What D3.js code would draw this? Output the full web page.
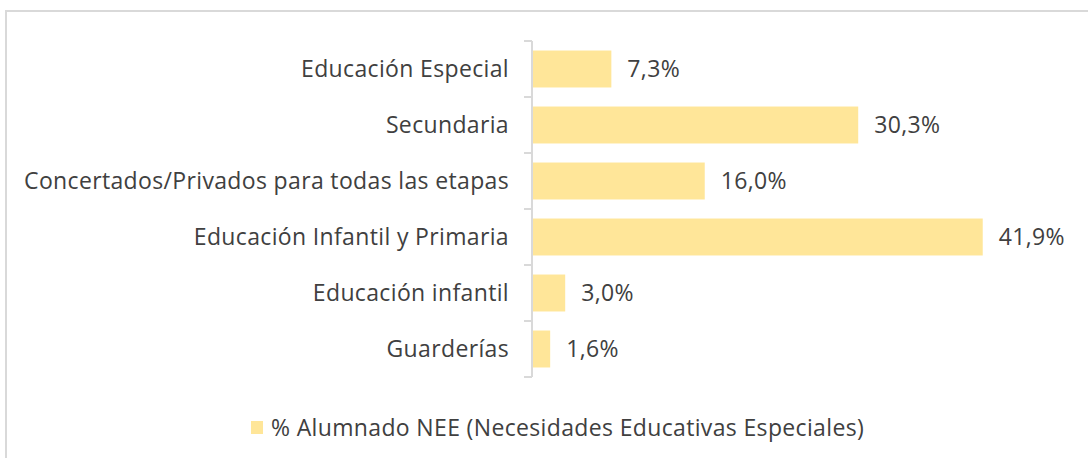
<!DOCTYPE html>
<html>
<head>
<meta charset="utf-8">
<script src="https://cdn.jsdelivr.net/npm/d3@7"></script>
<style>
  body { margin: 0; background: #fff; }
  svg text { font-family: "Open Sans", "Noto Sans", sans-serif; letter-spacing: 0.35px; }
</style>
</head>
<body>
<svg id="chart"></svg>
<script>
// Chart size
const width = 1088;
const height = 458;

// Data
const categories = [
  "Educación Especial",
  "Secundaria",
  "Concertados/Privados para todas las etapas",
  "Educación Infantil y Primaria",
  "Educación infantil",
  "Guarderías"
];
const values = [7.3, 30.3, 16.0, 41.9, 3.0, 1.6];
const seriesName = "% Alumnado NEE (Necesidades Educativas Especiales)";

// Visual constants
const BAR_COLOR = '#FFE699';
const TEXT_COLOR = '#404040';
const AXIS_COLOR = '#d9d9d9';
const FONT_SIZE = 23;

const data = categories.map((c, i) => ({ category: c, value: values[i] }));

const svg = d3.select('#chart')
    .attr('width', width)
    .attr('height', height)
    .attr('viewBox', [0, 0, width, height]);

// Outer frame (only top and left edges visible in the crop)
svg.append('path')
    .attr('d', `M6,${height} V11 H${width}`)
    .attr('fill', 'none')
    .attr('stroke', AXIS_COLOR)
    .attr('stroke-width', 2);

const x = d3.scaleLinear()
    .domain([0, 45])
    .range([533, 1016]);

const y = d3.scaleBand()
    .domain(categories)
    .range([41, 377])
    .paddingInner(0.34)
    .paddingOuter(0.17);

// Category axis: vertical line with ticks at band boundaries
const axisG = svg.append('g');
const bounds = d3.range(categories.length + 1)
    .map(i => y.range()[0] + i * (y.range()[1] - y.range()[0]) / categories.length);
axisG.append('line')
    .attr('x1', 532).attr('x2', 532)
    .attr('y1', 41).attr('y2', 377)
    .attr('stroke', AXIS_COLOR)
    .attr('stroke-width', 2);
axisG.selectAll('line.tick')
    .data(bounds)
    .join('line')
    .attr('class', 'tick')
    .attr('x1', 524).attr('x2', 532)
    .attr('y1', d => d).attr('y2', d => d)
    .attr('stroke', AXIS_COLOR)
    .attr('stroke-width', 2);

// Category labels
svg.append('g')
    .selectAll('text')
    .data(data)
    .join('text')
    .attr('x', 509)
    .attr('y', d => y(d.category) + y.bandwidth() / 2)
    .attr('dy', '0.35em')
    .attr('text-anchor', 'end')
    .attr('fill', TEXT_COLOR)
    .attr('font-size', FONT_SIZE)
    .text(d => d.category);

// Bars
svg.append('g')
    .selectAll('rect')
    .data(data)
    .join('rect')
    .attr('x', x(0))
    .attr('y', d => y(d.category))
    .attr('width', d => x(d.value) - x(0))
    .attr('height', y.bandwidth())
    .attr('fill', BAR_COLOR);

// Value labels
svg.append('g')
    .selectAll('text')
    .data(data)
    .join('text')
    .attr('x', d => x(d.value) + 16)
    .attr('y', d => y(d.category) + y.bandwidth() / 2)
    .attr('dy', '0.35em')
    .attr('fill', TEXT_COLOR)
    .attr('font-size', FONT_SIZE)
    .text(d => d.value.toFixed(1).replace('.', ',') + '%');

// Legend
const legend = svg.append('g');
legend.append('rect')
    .attr('x', 251).attr('y', 421)
    .attr('width', 12).attr('height', 13)
    .attr('fill', BAR_COLOR);
legend.append('text')
    .attr('x', 271)
    .attr('y', 428)
    .attr('dy', '0.35em')
    .attr('fill', TEXT_COLOR)
    .attr('font-size', FONT_SIZE)
    .text(seriesName);
</script>
</body>
</html>
